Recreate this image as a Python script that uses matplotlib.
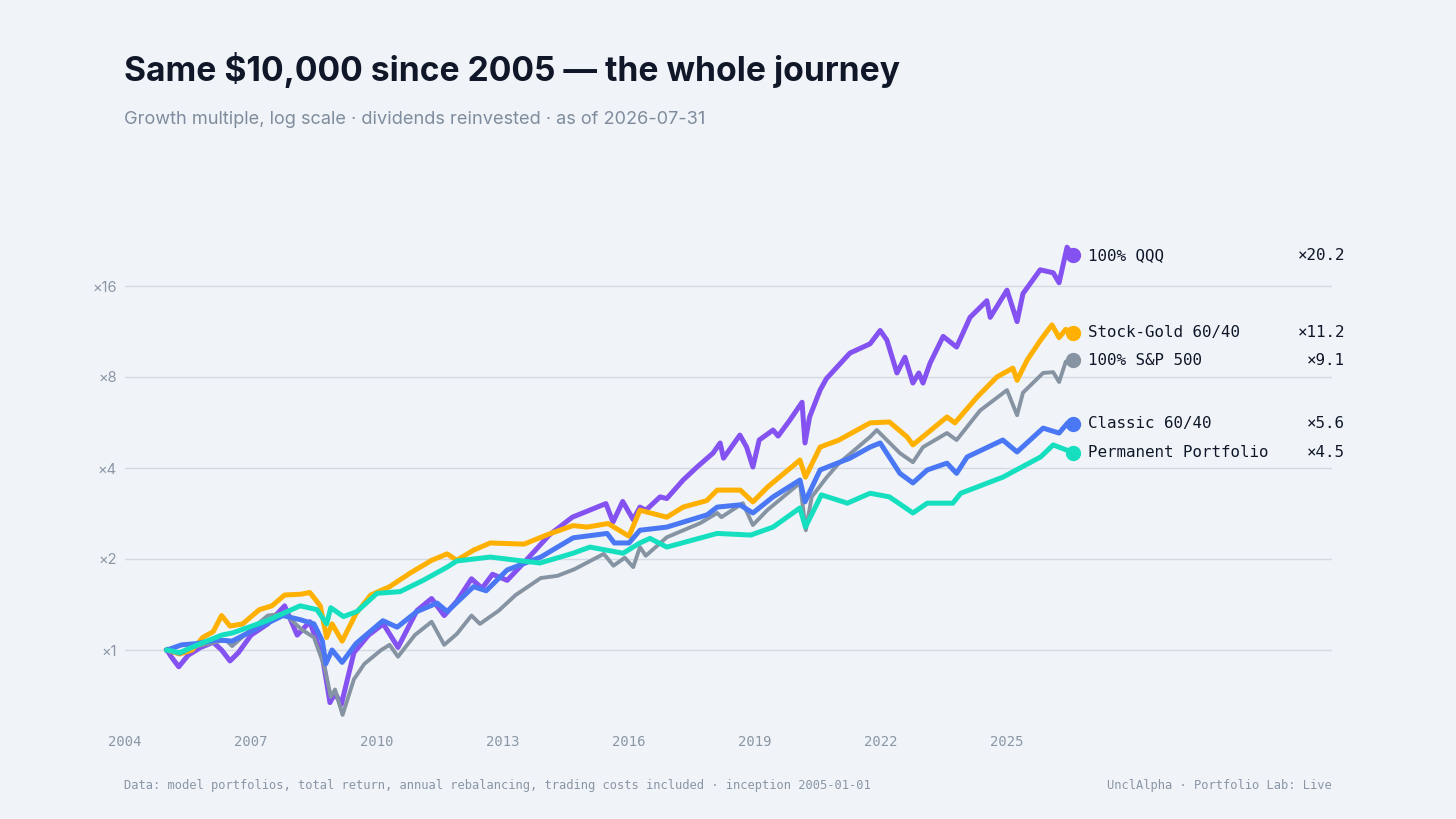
import matplotlib
matplotlib.use("Agg")
import matplotlib.pyplot as plt
from matplotlib.transforms import blended_transform_factory

# --- data (fractional year, growth multiple) ---
qqq_t = [2005.0, 2005.1, 2005.28, 2005.5, 2005.8, 2006.1, 2006.3, 2006.5, 2006.7, 2007.0,
         2007.4, 2007.8, 2008.1, 2008.4, 2008.7, 2008.88, 2009.0, 2009.15, 2009.45, 2009.8,
         2010.15, 2010.5, 2010.95, 2011.3, 2011.6, 2011.9, 2012.25, 2012.5, 2012.75, 2013.1,
         2013.55, 2014.1, 2014.65, 2015.45, 2015.62, 2015.85, 2016.1, 2016.26, 2016.4, 2016.74,
         2016.9, 2017.29, 2017.62, 2018.0, 2018.17, 2018.25, 2018.64, 2018.8, 2018.95, 2019.1,
         2019.43, 2019.55, 2019.83, 2020.12, 2020.19, 2020.3, 2020.55, 2020.7, 2021.26, 2021.74,
         2021.98, 2022.14, 2022.38, 2022.57, 2022.76, 2022.9, 2023.0, 2023.17, 2023.48, 2023.8,
         2024.12, 2024.52, 2024.6, 2025.0, 2025.24, 2025.38, 2025.79, 2026.1, 2026.24, 2026.43,
         2026.57]
qqq_v = [1.00, 0.95, 0.88, 0.96, 1.02, 1.06, 1.00, 0.92, 0.98, 1.12,
         1.22, 1.40, 1.12, 1.24, 0.95, 0.67, 0.72, 0.66, 0.98, 1.12,
         1.22, 1.02, 1.35, 1.48, 1.30, 1.45, 1.72, 1.60, 1.78, 1.70,
         1.98, 2.40, 2.75, 3.05, 2.65, 3.10, 2.70, 2.97, 2.90, 3.21,
         3.17, 3.65, 4.03, 4.48, 4.84, 4.31, 5.14, 4.69, 4.03, 4.95,
         5.34, 5.10, 5.76, 6.60, 4.84, 5.90, 7.24, 7.90, 9.60, 10.3,
         11.4, 10.6, 8.25, 9.30, 7.64, 8.25, 7.64, 8.90, 10.9, 10.05,
         12.6, 14.3, 12.6, 15.5, 12.2, 15.1, 18.1, 17.7, 16.4, 21.5,
         20.2]

gold_t = [2005.0, 2005.3, 2005.6, 2005.85, 2006.1, 2006.3, 2006.5, 2006.8, 2007.2, 2007.5,
          2007.8, 2008.2, 2008.4, 2008.65, 2008.8, 2008.93, 2009.17, 2009.5, 2009.85, 2010.3,
          2010.8, 2011.3, 2011.67, 2011.9, 2012.3, 2012.7, 2013.1, 2013.5, 2014.1, 2014.67,
          2015.0, 2015.5, 2016.0, 2016.26, 2016.9, 2017.29, 2017.85, 2018.1, 2018.65, 2018.95,
          2019.3, 2020.07, 2020.2, 2020.55, 2021.0, 2021.74, 2022.2, 2022.62, 2022.76, 2023.57,
          2023.76, 2024.29, 2024.76, 2025.14, 2025.24, 2025.48, 2025.8, 2026.07, 2026.24, 2026.4,
          2026.57]
gold_v = [1.00, 0.97, 1.00, 1.10, 1.15, 1.30, 1.20, 1.22, 1.36, 1.40,
          1.52, 1.53, 1.55, 1.40, 1.10, 1.22, 1.07, 1.32, 1.52, 1.62,
          1.80, 1.98, 2.08, 1.98, 2.14, 2.26, 2.25, 2.24, 2.42, 2.58,
          2.55, 2.62, 2.38, 2.90, 2.75, 2.97, 3.12, 3.38, 3.38, 3.09,
          3.46, 4.25, 3.73, 4.69, 4.95, 5.64, 5.68, 5.07, 4.77, 5.90,
          5.64, 6.87, 8.00, 8.56, 7.80, 9.10, 10.6, 11.9, 10.8, 11.5,
          11.2]

spx_t = [2005.0, 2005.3, 2005.6, 2006.0, 2006.4, 2006.55, 2007.0, 2007.4, 2007.8, 2008.2,
         2008.5, 2008.75, 2008.9, 2009.0, 2009.18, 2009.45, 2009.7, 2010.1, 2010.3, 2010.5,
         2010.9, 2011.3, 2011.6, 2011.9, 2012.25, 2012.45, 2012.9, 2013.3, 2013.9, 2014.3,
         2014.7, 2015.4, 2015.63, 2015.9, 2016.1, 2016.26, 2016.4, 2016.9, 2017.7, 2018.1,
         2018.2, 2018.71, 2018.95, 2019.29, 2020.07, 2020.21, 2020.35, 2020.71, 2021.0, 2021.74,
         2021.9, 2022.45, 2022.76, 2023.0, 2023.57, 2023.8, 2024.36, 2025.0, 2025.24, 2025.38,
         2025.86, 2026.1, 2026.24, 2026.4, 2026.57]
spx_v = [1.00, 0.97, 1.02, 1.05, 1.08, 1.03, 1.17, 1.30, 1.32, 1.17,
         1.10, 0.88, 0.70, 0.74, 0.61, 0.80, 0.90, 1.00, 1.04, 0.95,
         1.12, 1.24, 1.04, 1.13, 1.30, 1.22, 1.35, 1.52, 1.73, 1.76,
         1.85, 2.08, 1.90, 2.02, 1.88, 2.19, 2.05, 2.36, 2.63, 2.84,
         2.75, 3.06, 2.59, 2.90, 3.57, 2.49, 3.21, 3.73, 4.15, 5.07,
         5.34, 4.48, 4.18, 4.69, 5.22, 4.95, 6.20, 7.24, 5.98, 7.10,
         8.25, 8.30, 7.70, 9.00, 9.10]

classic_t = [2005.0, 2005.35, 2005.7, 2006.2, 2006.55, 2007.2, 2007.76, 2008.17, 2008.5, 2008.7,
             2008.78, 2008.93, 2009.17, 2009.5, 2010.14, 2010.48, 2010.95, 2011.43, 2011.67, 2012.3,
             2012.6, 2013.1, 2013.9, 2014.67, 2015.48, 2015.65, 2016.0, 2016.26, 2016.9, 2017.86,
             2018.1, 2018.64, 2018.95, 2019.43, 2020.07, 2020.19, 2020.55, 2021.26, 2021.74, 2021.98,
             2022.45, 2022.76, 2023.1, 2023.57, 2023.8, 2024.05, 2024.9, 2025.24, 2025.86, 2026.24,
             2026.45, 2026.57]
classic_v = [1.00, 1.04, 1.05, 1.08, 1.07, 1.19, 1.30, 1.26, 1.22, 1.07,
             0.90, 1.00, 0.91, 1.05, 1.25, 1.19, 1.34, 1.43, 1.34, 1.62,
             1.57, 1.84, 2.03, 2.35, 2.43, 2.26, 2.26, 2.49, 2.55, 2.80,
             2.97, 3.02, 2.84, 3.21, 3.65, 3.09, 3.94, 4.31, 4.69, 4.84,
             3.84, 3.57, 3.94, 4.15, 3.84, 4.35, 4.95, 4.52, 5.42, 5.22,
             5.65, 5.60]

perm_t = [2005.0, 2005.3, 2005.8, 2006.3, 2006.57, 2007.38, 2008.17, 2008.57, 2008.8, 2008.9,
          2009.2, 2009.52, 2010.0, 2010.55, 2011.1, 2011.67, 2011.9, 2012.7, 2013.33, 2013.88,
          2014.67, 2015.07, 2015.86, 2016.26, 2016.5, 2016.9, 2018.1, 2018.9, 2019.43, 2020.07,
          2020.2, 2020.58, 2021.2, 2021.74, 2022.2, 2022.76, 2023.1, 2023.71, 2023.9, 2024.9,
          2025.8, 2026.1, 2026.57]
perm_v = [1.00, 0.98, 1.05, 1.12, 1.14, 1.25, 1.40, 1.36, 1.22, 1.38,
          1.29, 1.34, 1.54, 1.56, 1.70, 1.88, 1.97, 2.03, 1.98, 1.94,
          2.09, 2.19, 2.09, 2.26, 2.34, 2.19, 2.43, 2.40, 2.55, 2.95,
          2.55, 3.26, 3.06, 3.30, 3.21, 2.84, 3.06, 3.06, 3.30, 3.73,
          4.35, 4.77, 4.50]

names = ["100% QQQ", "Stock-Gold 60/40", "100% S&P 500", "Classic 60/40", "Permanent Portfolio"]
multiples = ["×20.2", "×11.2", "×9.1", "×5.6", "×4.5"]
colors = ["#8452F0", "#FFB000", "#8593A3", "#4A78F5", "#16DFC0"]
series = [(qqq_t, qqq_v), (gold_t, gold_v), (spx_t, spx_v), (classic_t, classic_v), (perm_t, perm_v)]

year_ticks = [2004, 2007, 2010, 2013, 2016, 2019, 2022, 2025]
mult_ticks = [1, 2, 4, 8, 16]
mult_labels = ["×1", "×2", "×4", "×8", "×16"]

# --- figure ---
W, H = 1456, 819
bg = "#F0F4F8"
muted = "#8A96A6"
fig = plt.figure(figsize=(W / 100, H / 100), dpi=100, facecolor=bg)

def px(x, y):
    return x / W, 1 - y / H

left, right, top, bottom = 125, 1332, 230, 718
ax = fig.add_axes([left / W, 1 - bottom / H, (right - left) / W, (bottom - top) / H])
ax.set_facecolor(bg)
ax.set_yscale("log", base=2)
ax.set_xlim(2004, 2004 + (right - left) / 42)
ax.set_ylim(2 ** ((650 - bottom) / 91), 2 ** ((650 - top) / 91))

for s in ax.spines.values():
    s.set_visible(False)
ax.set_yticks(mult_ticks)
ax.set_yticklabels(mult_labels, family="Inter", fontsize=10.5, color=muted)
ax.yaxis.set_minor_locator(matplotlib.ticker.NullLocator())
ax.set_xticks(year_ticks)
ax.set_xticklabels([str(y) for y in year_ticks], family="DejaVu Sans Mono", fontsize=10, color=muted)
ax.tick_params(length=0)
ax.tick_params(axis="y", pad=6)
ax.tick_params(axis="x", pad=12)
ax.grid(axis="y", color="#D3DAE3", lw=1)
ax.set_axisbelow(True)

# draw order: S&P at the back
order = [2, 1, 0, 3, 4]
for i in order:
    t, v = series[i]
    lw = 2.8 if i == 2 else 3.6
    ax.plot(t, v, color=colors[i], lw=lw, solid_joinstyle="round", zorder=3 + i)
    ax.plot(t[-1], v[-1], "o", color=colors[i], ms=10, zorder=10)

tr = blended_transform_factory(fig.transFigure, ax.transData)
for i, (t, v) in enumerate(series):
    ax.annotate(names[i], xy=(t[-1], v[-1]), xytext=(11, 0), textcoords="offset points",
                va="center", ha="left", family="DejaVu Sans Mono", fontsize=11.4,
                color="#0F1729", annotation_clip=False)
    ax.text(1345 / W, v[-1], multiples[i], transform=tr, va="center", ha="right",
            family="DejaVu Sans Mono", fontsize=11.4, color="#0F1729", clip_on=False)

# --- titles and footer ---
fig.text(*px(124, 70), "Same $10,000 since 2005 — the whole journey", family="Inter",
         fontweight="bold", fontsize=24.2, color="#0F1729", va="center", ha="left")
fig.text(*px(124, 120), "Growth multiple, log scale · dividends reinvested · as of 2026-07-31",
         family="Inter", fontsize=13.1, color="#7F8C9D", va="center", ha="left")
fig.text(*px(124, 786), "Data: model portfolios, total return, annual rebalancing, trading costs "
         "included · inception 2005-01-01", family="DejaVu Sans Mono", fontsize=8.7,
         color=muted, va="center", ha="left")
fig.text(*px(1332, 786), "UnclAlpha · Portfolio Lab: Live", family="DejaVu Sans Mono",
         fontsize=8.7, color=muted, va="center", ha="right")

fig.savefig("out.png", dpi=100, facecolor=bg)
